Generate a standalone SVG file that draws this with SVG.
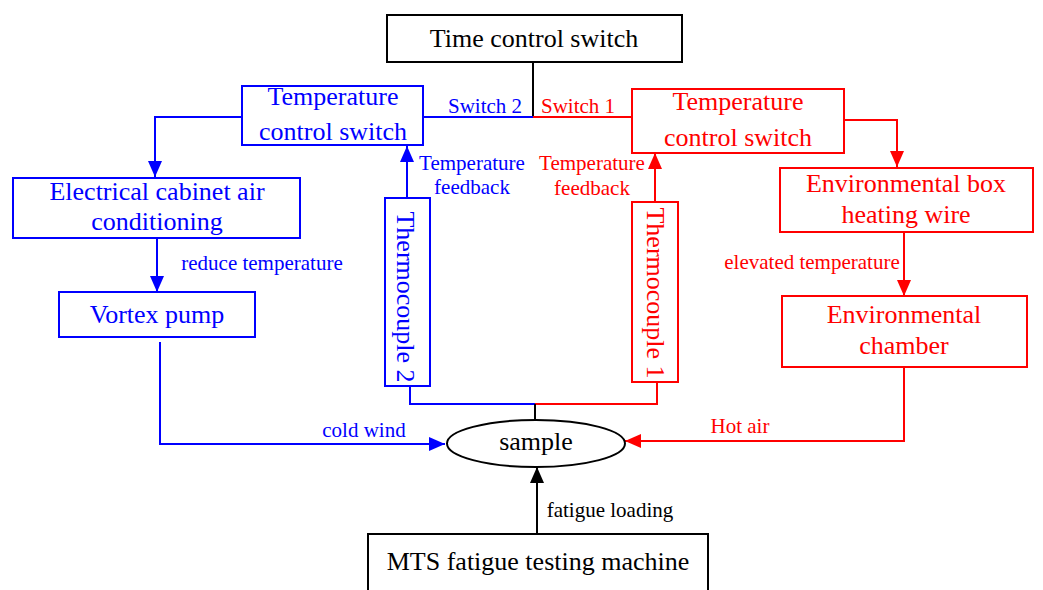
<svg xmlns="http://www.w3.org/2000/svg" width="1043" height="590" viewBox="0 0 1043 590">
<style>
text{font-family:"Liberation Serif","Times New Roman",serif;text-anchor:middle}
.big{font-size:26px}
.mid{font-size:26px}
.lab{font-size:21px}
.b{fill:#0000ff}
.r{fill:#ff0000}
.k{fill:#000}
.box{fill:#fff;stroke-width:2}
.bs{stroke:#0000ff}
.rs{stroke:#ff0000}
.ks{stroke:#000}
.ln{fill:none;stroke-width:2}
</style>
<defs>
<marker id="ab" markerUnits="userSpaceOnUse" markerWidth="16" markerHeight="16" viewBox="0 0 16 16" refX="16" refY="8" orient="auto"><path d="M0,1 L16,8 L0,15 Z" fill="#0000ff"/></marker>
<marker id="ar" markerUnits="userSpaceOnUse" markerWidth="16" markerHeight="16" viewBox="0 0 16 16" refX="16" refY="8" orient="auto"><path d="M0,1 L16,8 L0,15 Z" fill="#ff0000"/></marker>
<marker id="ak" markerUnits="userSpaceOnUse" markerWidth="16" markerHeight="16" viewBox="0 0 16 16" refX="16" refY="8" orient="auto"><path d="M0,1 L16,8 L0,15 Z" fill="#000"/></marker>
</defs>

<g id="connectors">
<path class="ln ks" d="M533,62 V117"/>
<path class="ln bs" d="M423,117 H533"/>
<path class="ln rs" d="M533,117 H632"/>
<path class="ln bs" d="M242,117 H155 V177" marker-end="url(#ab)"/>
<path class="ln bs" d="M157,238 V292" marker-end="url(#ab)"/>
<path class="ln bs" d="M160,342 V444 H445" marker-end="url(#ab)"/>
<path class="ln bs" d="M407,198 V146" marker-end="url(#ab)"/>
<path class="ln bs" d="M410,386 V404 H535"/>
<path class="ln rs" d="M535,404 H657 V382"/>
<path class="ln ks" d="M535,404 V420"/>
<path class="ln rs" d="M655,202 V153" marker-end="url(#ar)"/>
<path class="ln rs" d="M844,120 H897 V167" marker-end="url(#ar)"/>
<path class="ln rs" d="M904,232 V296" marker-end="url(#ar)"/>
<path class="ln rs" d="M904,367 V441 H625" marker-end="url(#ar)"/>
<path class="ln ks" d="M537,534 V467" marker-end="url(#ak)"/>
<text class="lab b" x="485" y="113">Switch 2</text>
<text class="lab r" x="578" y="113">Switch 1</text>
<text class="lab b" x="262" y="270">reduce temperature</text>
<text class="lab b" x="364" y="437">cold wind</text>
<text class="lab b" x="472" y="170">Temperature</text>
<text class="lab b" x="472" y="194">feedback</text>
<text class="lab r" x="592" y="170">Temperature</text>
<text class="lab r" x="592" y="195">feedback</text>
<text class="lab r" x="812" y="269">elevated temperature</text>
<text class="lab r" x="740" y="433">Hot air</text>
<text class="lab k" x="610" y="517">fatigue loading</text>
</g>

<g id="time-control-switch">
<rect class="box ks" x="387" y="15" width="295" height="47"/>
<text class="big k" x="534" y="47">Time control switch</text>
</g>

<g id="temp-control-switch-2">
<rect class="box bs" x="242" y="86" width="181" height="59"/>
<text class="mid b" x="333" y="105">Temperature</text>
<text class="mid b" x="333" y="140">control switch</text>
</g>

<g id="temp-control-switch-1">
<rect class="box rs" x="632" y="89" width="212" height="64"/>
<text class="mid r" x="738" y="110">Temperature</text>
<text class="mid r" x="738" y="146">control switch</text>
</g>

<g id="electrical-cabinet">
<rect class="box bs" x="13" y="178" width="287" height="60"/>
<text class="mid b" x="157" y="200">Electrical cabinet air</text>
<text class="mid b" x="157" y="230">conditioning</text>
</g>

<g id="vortex-pump">
<rect class="box bs" x="59" y="292" width="196" height="45"/>
<text class="mid b" x="157" y="323">Vortex pump</text>
</g>

<g id="thermocouple-2">
<rect class="box bs" x="385" y="198" width="45" height="188"/>
<text class="mid b" transform="translate(397,297) rotate(90)">Thermocouple 2</text>
</g>

<g id="thermocouple-1">
<rect class="box rs" x="632" y="202" width="46" height="180"/>
<text class="mid r" transform="translate(647,293) rotate(90)">Thermocouple 1</text>
</g>

<g id="env-box-heating-wire">
<rect class="box rs" x="780" y="168" width="253" height="64"/>
<text class="mid r" x="906" y="192">Environmental box</text>
<text class="mid r" x="906" y="223">heating wire</text>
</g>

<g id="environmental-chamber">
<rect class="box rs" x="782" y="296" width="245" height="71"/>
<text class="mid r" x="904" y="323">Environmental</text>
<text class="mid r" x="904" y="354">chamber</text>
</g>

<g id="sample">
<ellipse cx="536" cy="443.5" rx="89" ry="23.5" fill="#fff" stroke="#000" stroke-width="2"/>
<text class="big k" x="536" y="450">sample</text>
</g>

<g id="mts-machine">
<rect class="box ks" x="368" y="534" width="340" height="70"/>
<text class="big k" x="538" y="570">MTS fatigue testing machine</text>
</g>
</svg>
